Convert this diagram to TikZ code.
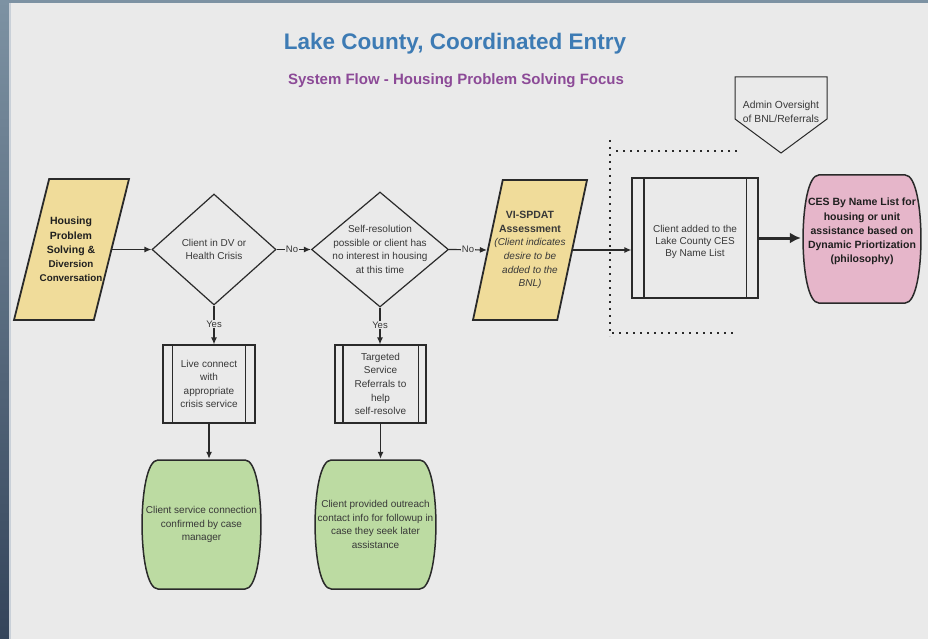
\documentclass[tikz,border=0pt]{standalone}
\usepackage{fontspec}
\setmainfont{Liberation Sans}
\usetikzlibrary{shapes.geometric,arrows.meta,calc}
\definecolor{bgc}{HTML}{EAEAEA}
\definecolor{frtop}{HTML}{7D92A3}
\definecolor{frbot}{HTML}{34445A}
\definecolor{frlight}{HTML}{C9D0D8}
\definecolor{titlec}{HTML}{3D7BB4}
\definecolor{subc}{HTML}{8C4A97}
\definecolor{yellowc}{HTML}{F0DC9A}
\definecolor{greenc}{HTML}{BCDBA2}
\definecolor{pinkc}{HTML}{E6B6CA}
\definecolor{linec}{HTML}{2A2A2A}
\definecolor{textc}{HTML}{383838}
\begin{document}
\begin{tikzpicture}[x=1pt,y=-1pt,
  txt/.style={text=textc, font=\fontsize{10}{13.6}\selectfont, align=center},
  btxt/.style={text=black!88, font=\fontsize{10.5}{14.2}\selectfont\bfseries, align=center},
  dia/.style={diamond, draw=linec, line width=1.2pt, inner sep=0pt},
  para/.style={trapezium, draw=linec, line width=1.8pt, fill=yellowc,
    trapezium left angle=76, trapezium right angle=104,
    trapezium stretches body, inner sep=0pt},
  pbox/.style={rectangle, draw=linec, line width=1.2pt, inner sep=0pt, txt},
  arr/.style={draw=linec, line width=1.2pt, -{Latex[length=7pt,width=6pt]}},
  thickarr/.style={draw=linec, line width=3pt, -{Latex[length=11pt,width=11pt]}},
  lbl/.style={fill=bgc, inner sep=0.6pt, text=textc, font=\fontsize{9.5}{11}\selectfont},
  shapeline/.style={draw=linec, line width=1.2pt},
  dotline/.style={draw=linec, line width=1.9pt, dash pattern=on 1.6pt off 5.4pt},
  barrel/.style={inner sep=0pt, fill=bgc,
    path picture={\filldraw[fill=#1, draw=linec, line width=1.5pt]
      let \p1=(path picture bounding box.south west),
          \p2=(path picture bounding box.north east),
          \n1={0.5*(\x1+\x2)}, \n2={0.5*(\x2-\x1)-1pt} in
      ({\n1-0.72*\n2+0pt},{\y2-1pt}) -- ({\n1+0.72*\n2+0pt},{\y2-1pt})
      .. controls ({\n1+1.07*\n2+0pt},{\y2-1pt}) and ({\n1+1.07*\n2+0pt},{\y1+1pt})
      .. ({\n1+0.72*\n2+0pt},{\y1+1pt}) -- ({\n1-0.72*\n2+0pt},{\y1+1pt})
      .. controls ({\n1-1.07*\n2+0pt},{\y1+1pt}) and ({\n1-1.07*\n2+0pt},{\y2-1pt})
      .. cycle;}},
]
\useasboundingbox (0,0) rectangle (928,639);
% background and frame
\fill[bgc] (0,0) rectangle (928,639);
\shade[top color=frtop, bottom color=frbot] (0,0) rectangle (9,639);
\fill[frtop] (0,0) rectangle (928,3);
\fill[frlight] (9,3) rectangle (11,639);

% titles
\node[font=\fontsize{22.5}{27}\selectfont\bfseries, text=titlec] (title) at (455,44) {Lake County, Coordinated Entry};
\node[font=\fontsize{15}{18}\selectfont\bfseries, text=subc] (subtitle) at (456,81) {System Flow - Housing Problem Solving Focus};

% main row
\node[para, minimum width=115,
  label={[btxt, xshift=-0.5pt]center:{Housing\\Problem\\Solving \&\\{\fontsize{9.8}{13.5}\selectfont Diversion}\\{\fontsize{9.8}{13.5}\selectfont Conversation}}}] (hp) at (71.5,249.5) {\rule{0pt}{141pt}};
\node[dia, minimum width=124, minimum height=111,
  label={[txt]center:{Client in DV or\\Health Crisis}}] (d1) at (214,249.5) {};
\node[dia, minimum width=137, minimum height=115,
  label={[txt]center:{Self-resolution\\possible or client has\\no interest in housing\\at this time}}] (d2) at (380,249.5) {};
\node[para, minimum width=114, trapezium left angle=78, trapezium right angle=102,
  label={[txt]center:{\textbf{\fontsize{10.5}{14}\selectfont VI-SPDAT}\\\textbf{\fontsize{10.5}{14}\selectfont Assessment}\\\textit{(Client indicates}\\\textit{desire to be}\\\textit{added to the}\\\textit{BNL)}}}] (vi) at (530,250) {\rule{0pt}{140pt}};

\node[pbox, minimum width=126, minimum height=120,
  label={[txt, font=\fontsize{10}{12}\selectfont, yshift=-4pt]center:{Client added to the\\Lake County CES\\By Name List}}] (box1) at (695,238) {};
\node[barrel=pinkc, minimum width=122, minimum height=130, btxt] (pink) at (862,239) {CES By Name List for\\housing or unit\\assistance based on\\Dynamic Priortization\\(philosophy)\\[3pt]};

% lower boxes
\node[pbox, minimum width=92, minimum height=78] (live) at (209,384) {Live connect\\with\\appropriate\\crisis service};
\node[pbox, minimum width=91, minimum height=78] (targ) at (380.5,384) {Targeted\\Service\\Referrals to\\help\\self-resolve};
\foreach \n/\d in {box1/12.5, live/10, targ/8.5}
  \draw[shapeline] ([xshift=\d pt]\n.north west) -- ([xshift=\d pt]\n.south west)
                   ([xshift=-\d pt]\n.north east) -- ([xshift=-\d pt]\n.south east);

\node[barrel=greenc, minimum width=123, minimum height=131, txt] (g1) at (201.5,524.5) {Client service connection\\confirmed by case\\manager};
\node[barrel=greenc, minimum width=125, minimum height=131, txt] (g2) at (375.5,524.5) {Client provided outreach\\contact info for followup in\\case they seek later\\assistance};

% admin oversight
\node[txt, font=\fontsize{10.3}{14}\selectfont] (adm) at (781,112) {Admin Oversight\\of BNL/Referrals};
\draw[draw=linec, line width=1pt] (735,77) -- (827,77) -- (827,119) -- (781,153) -- (735,119) -- cycle;

% dotted bracket
\draw[dotline] (737,151) -- (612,151);
\draw[dotline] (610,140) -- (610,336);
\draw[dotline] (612,333) -- (737,333);

% connectors
\draw[arr] (hp.right side) -- (d1.west);
\draw[arr] (d1.east) -- node[lbl, pos=0.45] {No} (d2.west);
\draw[arr] (d2.east) -- node[lbl, pos=0.5] {No} (vi.left side);
\draw[arr] (vi.right side) -- (vi.right side -| box1.west);
\draw[thickarr] (box1.east) -- (box1.east -| pink.west);
\draw[arr] (d1.south) -- node[lbl, pos=0.47] {Yes} (d1.south |- live.north);
\draw[arr] (d2.south) -- node[lbl, pos=0.47] {Yes} (d2.south |- targ.north);
\draw[arr] (live.south) -- (live.south |- g1.north);
\draw[arr] (targ.south) -- (targ.south |- g2.north);
\end{tikzpicture}
\end{document}
